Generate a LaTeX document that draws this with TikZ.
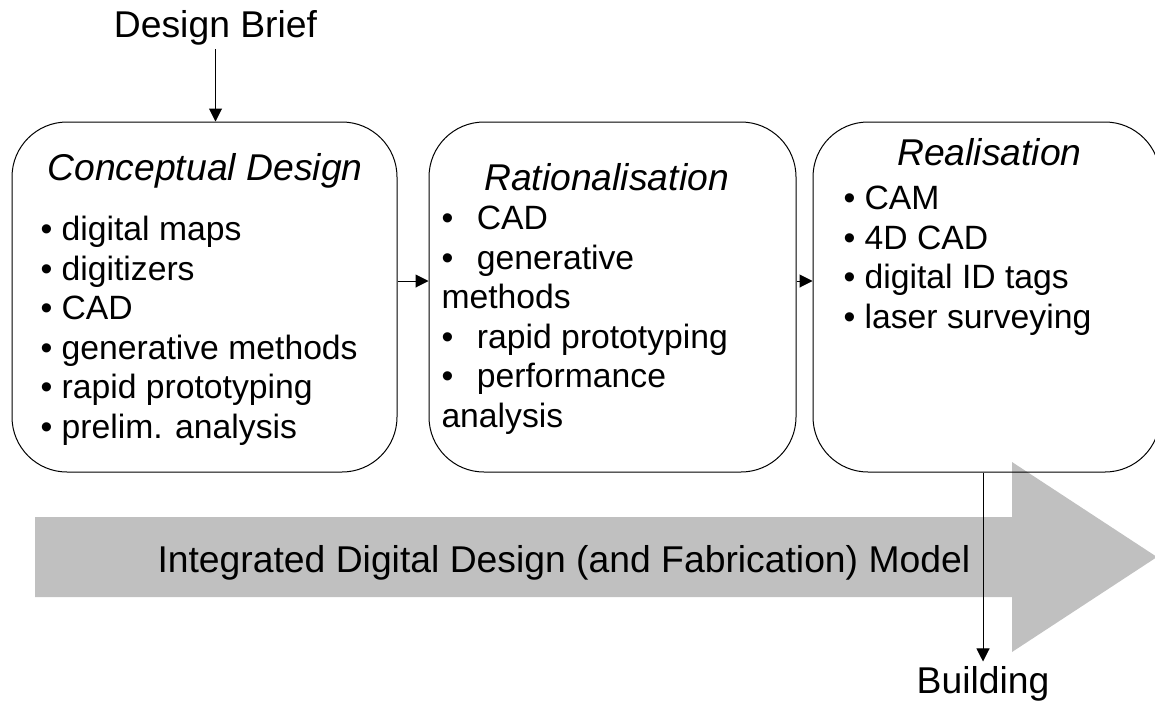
\documentclass[tikz,border=0pt]{standalone}
\usepackage{fontspec}
\setmainfont{Liberation Sans}
\usetikzlibrary{positioning, calc, arrows.meta}
\definecolor{modelgray}{HTML}{C0C0C0}

\begin{document}
\begin{tikzpicture}[
  x=1pt, y=-1pt,
  >={Triangle[length=13pt, width=13pt]}, line width=1pt,
  stage/.style      = {draw, rectangle, rounded corners=55pt, minimum height=350pt, inner sep=0pt},
  stagetitle/.style = {font=\fontsize{37.3}{44}\selectfont\itshape, inner sep=0pt, anchor=base},
  stageitems/.style = {font=\fontsize{33.7}{39.5}\selectfont, inner sep=0pt, anchor=base west, align=left},
  outside/.style    = {font=\fontsize{37.3}{44}\selectfont, inner sep=4pt, anchor=base},
]
  \useasboundingbox (0,0) rectangle (1155,702);
  \clip (0,0) rectangle (1155,702);

  % model arrow in the background
  \fill[modelgray] (35,517) -- (1012,517) -- (1012,462) -- (1157,557)
                   -- (1012,652) -- (1012,597) -- (35,597) -- cycle;
  \node[outside, inner sep=0pt, anchor=base west] (model) at (157,572)
    {Integrated Digital Design (and Fabrication) Model};

  % stages
  \node[stage, minimum width=385pt] (concept) at (204.5,297) {};
  \node[stage, minimum width=367pt] (ration)  at (612.5,297) {};
  \node[stage, minimum width=347pt] (real)    at (986.5,297) {};

  % lists are placed at the baseline of their last line
  \node[stagetitle] (concepttitle) at (205,180) {Conceptual Design};
  \node[stageitems] (conceptlist)  at (40,438)
    {• digital maps\\• digitizers\\• CAD\\• generative methods\\• rapid prototyping\\• prelim. analysis};

  \node[stagetitle] (rationtitle) at (606.5,190) {Rationalisation};
  \node[stageitems] (rationlist)  at (441,427)
    {•\hspace{0.7em}CAD\\•\hspace{0.7em}generative\\methods\\•\hspace{0.7em}rapid prototyping\\•\hspace{0.7em}performance\\analysis};

  \node[stagetitle] (realtitle) at (989.5,165) {Realisation};
  \node[stageitems] (reallist)  at (843,328)
    {• CAM\\• 4D CAD\\• digital ID tags\\• laser surveying};

  % input and output
  \node[outside] (brief)    at (215.5,37) {Design Brief};
  \node[outside] (building) at (983,693)  {Building};

  \draw[->] (brief.south) -- (brief.south |- concept.north);
  \draw[->] ([yshift=16pt]concept.east) -- ([yshift=16pt]ration.west);
  \draw[->] ([yshift=16pt]ration.east)  -- ([yshift=16pt]real.west);
  \draw[->] (real.south -| building) -- (building.north);
\end{tikzpicture}
\end{document}
